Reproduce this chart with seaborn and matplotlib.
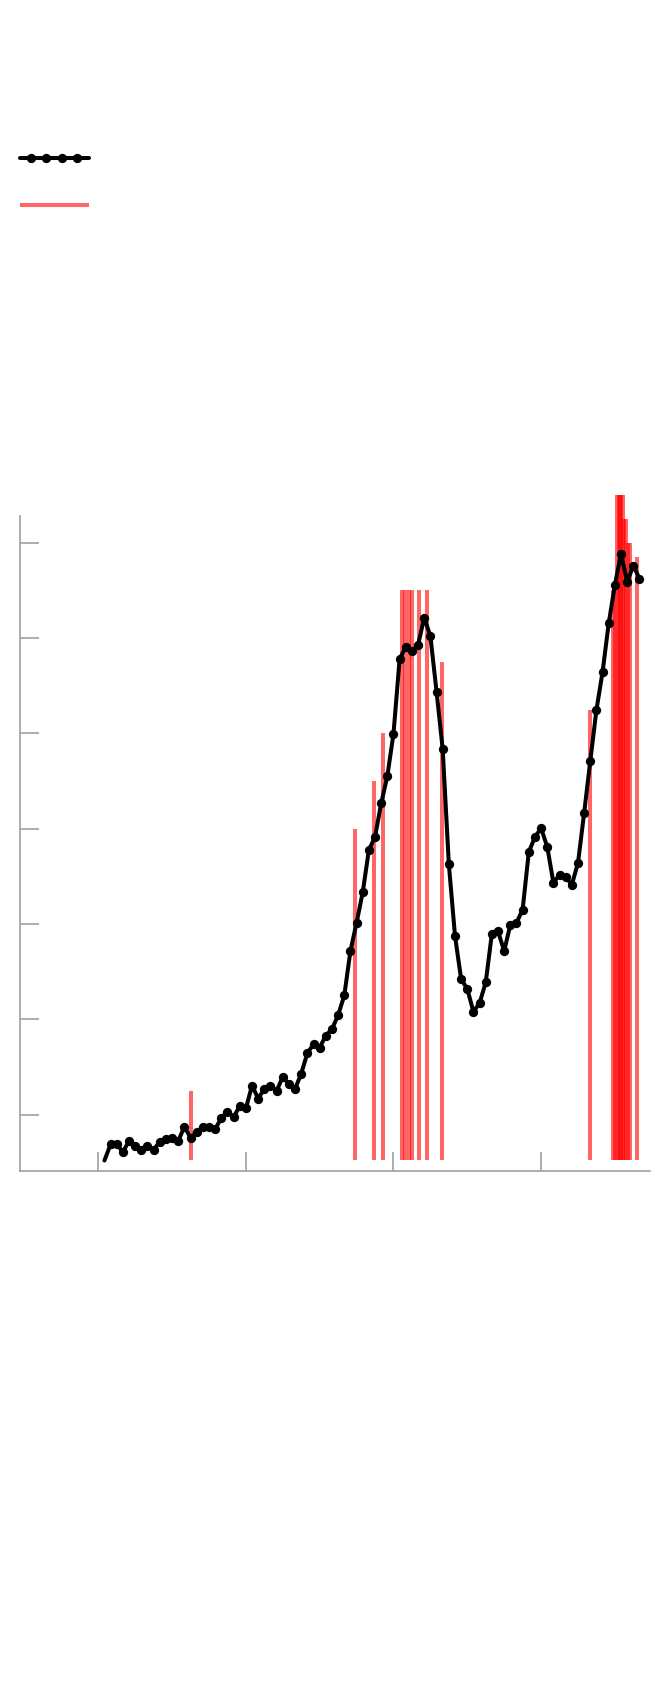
import numpy as np
import matplotlib
matplotlib.use('Agg')
import matplotlib.pyplot as plt
import seaborn as sns
from matplotlib.lines import Line2D
from matplotlib.legend_handler import HandlerLine2D

# series, one value per period
periods = np.arange(1, 89)
values = [52, 69, 69, 61, 72.5, 67, 63.5, 67, 63.5, 71.5,
          75, 76, 72.5, 87.4, 76, 81.6, 87.4, 87.4, 85, 96.4,
          103.3, 97.6, 109, 106.7, 130.6, 117, 127.2, 130.6, 125, 139.8,
          131.8, 127.2, 143.1, 164.8, 173.9, 170.5, 183, 189.8, 204.6, 225.1,
          271.8, 301.4, 333.3, 377.8, 391.4, 426.7, 455.2, 499.6, 578.1, 590.6,
          586.1, 592.9, 621.5, 602, 543.9, 483.6, 362.9, 287.8, 242.2, 232,
          208, 217.2, 238.8, 290, 292.3, 271.8, 299.2, 301.4, 315.1, 375.5,
          391.4, 400.5, 381.1, 343.6, 351.5, 349.2, 341.3, 364.1, 416.5, 471.1,
          524.6, 564.5, 615.7, 655.6, 688.6, 659, 676.1, 662.4]

# red event markers
event_x = [15.0, 41.8, 44.9, 46.3, 49.4, 49.8, 50.6, 51.0, 52.15, 53.5, 55.9,
           80.0, 83.65, 84.05, 84.35, 84.6, 84.85, 85.05, 85.3, 85.55, 85.85,
           86.15, 86.4, 87.6]
event_top = [125, 400, 450, 500, 650, 650, 650, 650, 650, 650, 575,
             525, 650, 650, 750, 750, 750, 750, 750, 725, 725,
             700, 700, 685]
event_base = 52

x_ticks = [0, 24, 48, 72]
y_ticks = [100, 200, 300, 400, 500, 600, 700]

sns.set_style('white')
fig = plt.figure(figsize=(6.6, 17.02), dpi=100)
ax = fig.add_axes([20 / 660, 531.3 / 1702, 630 / 660, 680.4 / 1702])

bars = ax.vlines(event_x, event_base, event_top, colors='red', alpha=0.6,
                 linewidth=2.9, zorder=1)
sns.lineplot(x=periods, y=values, color='black', linewidth=2.9, marker='o',
             markersize=6.7, markeredgewidth=0, markevery=list(range(1, 88)),
             ax=ax, zorder=3)

ax.set_xlim(-12.73, 89.71)
ax.set_ylim(41.3, 755)
ax.set_xticks(x_ticks)
ax.set_yticks(y_ticks)
ax.set_xlabel('')
ax.set_ylabel('')
grey = '#a0a0a0'
ax.tick_params(direction='in', length=13.4, width=1.2, color=grey,
               bottom=True, left=True, labelbottom=False, labelleft=False)
ax.spines[['top', 'right']].set_visible(False)
for s in ['left', 'bottom']:
    ax.spines[s].set_color(grey)
    ax.spines[s].set_linewidth(1.2)
ax.spines['left'].set_bounds(41.3, 728)

# legend without labels
plain = Line2D([], [], color='black', linewidth=2.9)
dots = Line2D([], [], color='black', linestyle='none', marker='o',
              markersize=6.7, markeredgewidth=0)
fig.legend([(plain, dots), bars], ['', ''], loc='upper left',
           bbox_to_anchor=(19.5 / 660, 1 - 152.2 / 1702), frameon=False,
           handlelength=5.0, handletextpad=0, borderpad=0, borderaxespad=0,
           labelspacing=2.34,
           handler_map={plain: HandlerLine2D(marker_pad=0),
                        dots: HandlerLine2D(marker_pad=0.83, numpoints=4)})

fig.savefig('out.png', dpi=100)
